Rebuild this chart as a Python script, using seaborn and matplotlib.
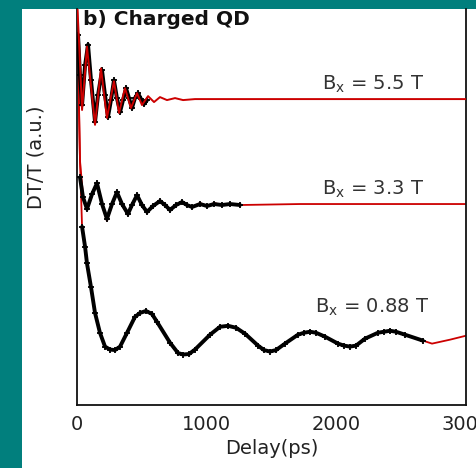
import matplotlib
matplotlib.use('Agg')
import matplotlib.pyplot as plt
from matplotlib.patches import Rectangle
import seaborn as sns

# --- values (delay in ps, DT/T in a.u.) ---
# Bx = 5.5 T
fit55_t = [0, 15, 39, 77, 139, 185, 231, 285, 324, 370, 416, 463, 501, 548, 594,
           640, 694, 756, 818, 910, 1003, 3000]
fit55_y = [4.1, 3.69, 2.98, 3.62, 2.83, 3.40, 2.90, 3.27, 2.95, 3.20, 3.00, 3.15, 3.03,
           3.12, 3.06, 3.11, 3.08, 3.10, 3.08, 3.09, 3.09, 3.09]
data55_t = [8, 23, 39, 62, 85, 108, 139, 162, 193, 216, 239, 262, 285, 308, 332, 355,
            378, 401, 424, 447, 470, 494, 517, 540]
data55_y = [3.74, 3.33, 3.03, 3.43, 3.64, 3.28, 2.86, 3.13, 3.38, 3.13, 2.91, 3.08, 3.28,
            3.10, 2.96, 3.08, 3.20, 3.10, 3.00, 3.10, 3.15, 3.09, 3.04, 3.08]

# Bx = 3.3 T
fit33_t = [0, 23, 46, 77, 116, 154, 193, 231, 270, 308, 347, 393, 424, 463, 501, 540,
           586, 640, 679, 717, 764, 810, 848, 887, 949, 1003, 1057, 1118, 1180, 1257,
           1720, 3000]
fit33_y = [4.1, 2.47, 2.12, 1.97, 2.12, 2.24, 2.02, 1.86, 2.02, 2.15, 2.02, 1.92, 2.02,
           2.12, 2.02, 1.94, 2.01, 2.07, 2.02, 1.97, 2.02, 2.05, 2.02, 2.00, 2.04, 2.01,
           2.04, 2.02, 2.03, 2.02, 2.03, 2.03]
data33_t = [23, 46, 77, 116, 154, 193, 231, 270, 308, 347, 393, 424, 463, 501, 540,
            586, 640, 679, 717, 764, 810, 848, 887, 949, 1003, 1057, 1118, 1180, 1257]
data33_y = [2.30, 2.10, 1.98, 2.13, 2.24, 2.03, 1.88, 2.03, 2.15, 2.03, 1.93, 2.02, 2.12,
            2.02, 1.95, 2.01, 2.06, 2.02, 1.97, 2.02, 2.05, 2.02, 2.00, 2.03, 2.01, 2.03,
            2.02, 2.03, 2.02]

# Bx = 0.88 T
fit088_t = [0, 23, 39, 62, 77, 108, 139, 177, 216, 254, 293, 332, 386, 447, 486, 532,
            578, 617, 717, 779, 818, 864, 910, 1026, 1103, 1165, 1227, 1296, 1396, 1442,
            1488, 1535, 1604, 1704, 1751, 1797, 1843, 1913, 2013, 2059, 2105, 2152, 2221,
            2321, 2368, 2414, 2460, 2530, 2668, 2738, 2877, 3000]
fit088_y = [4.1, 2.47, 1.80, 1.60, 1.43, 1.19, 0.93, 0.73, 0.59, 0.56, 0.555, 0.59, 0.73,
            0.89, 0.93, 0.95, 0.92, 0.84, 0.63, 0.525, 0.51, 0.515, 0.56, 0.71, 0.79, 0.80,
            0.78, 0.72, 0.60, 0.555, 0.54, 0.555, 0.62, 0.71, 0.73, 0.74, 0.73, 0.69, 0.62,
            0.60, 0.59, 0.60, 0.67, 0.73, 0.74, 0.75, 0.74, 0.71, 0.65, 0.62, 0.66, 0.70]
data088_t = [39, 62, 77, 108, 139, 177, 216, 254, 293, 332, 386, 447, 486, 532, 578, 617,
             717, 779, 818, 864, 910, 1026, 1103, 1165, 1227, 1296, 1396, 1442, 1488, 1535,
             1604, 1704, 1751, 1797, 1843, 1913, 2013, 2059, 2105, 2152, 2221, 2321, 2368,
             2414, 2460, 2530, 2668]
data088_y = [1.80, 1.60, 1.43, 1.19, 0.93, 0.73, 0.59, 0.56, 0.555, 0.59, 0.73, 0.89,
             0.93, 0.95, 0.92, 0.84, 0.63, 0.525, 0.51, 0.515, 0.56, 0.71, 0.79, 0.80, 0.78,
             0.72, 0.60, 0.555, 0.54, 0.555, 0.62, 0.71, 0.73, 0.74, 0.73, 0.69, 0.62, 0.60,
             0.59, 0.60, 0.67, 0.73, 0.74, 0.75, 0.74, 0.71, 0.65]

field_labels = ['5.5 T', '3.3 T', '0.88 T']
xticks = [0, 1000, 2000, 3000]

sns.set_style('white')
plt.rcParams['font.family'] = ['DejaVu Sans']

teal = '#017f7d'
fig = plt.figure(figsize=(4.76, 4.68), dpi=100)
fig.patch.set_facecolor(teal)
fig.add_artist(Rectangle((22 / 476, 0), 454 / 476, 459 / 468, transform=fig.transFigure,
                         facecolor='white', edgecolor='none', zorder=0))

ax = fig.add_axes([77 / 476, 63 / 468, 389 / 476, 396 / 468])
ax.set_facecolor('white')

# fit first under the data for the two lower curves
sns.lineplot(x=fit33_t, y=fit33_y, ax=ax, color='#cc0000', lw=1.3, sort=False, estimator=None, zorder=2)
sns.lineplot(x=fit088_t, y=fit088_y, ax=ax, color='#cc0000', lw=1.3, sort=False, estimator=None, zorder=2)

for t, y in [(data55_t, data55_y), (data33_t, data33_y), (data088_t, data088_y)]:
    sns.lineplot(x=t, y=y, ax=ax, color='black', lw=2.8, marker='+', markersize=5,
                 markeredgewidth=1.3, markeredgecolor='black', sort=False,
                 estimator=None, zorder=3)

# fit on top for 5.5 T
sns.lineplot(x=fit55_t, y=fit55_y, ax=ax, color='#cc0000', lw=1.4, sort=False, estimator=None, zorder=4)

ax.set_xlim(0, 3000)
ax.set_ylim(0, 4)
ax.set_xticks(xticks)
ax.set_xticklabels([str(v) for v in xticks], fontsize=14, color='#222222')
ax.set_yticks([])
ax.tick_params(axis='x', direction='inout', length=4, width=1, pad=5)

for side in ['left', 'bottom', 'right']:
    ax.spines[side].set_visible(True)
    ax.spines[side].set_color('#111111')
    ax.spines[side].set_linewidth(1.3)
ax.spines['top'].set_visible(False)

ax.set_xlabel('Delay(ps)', fontsize=14, color='#222222', labelpad=4)
ax.set_ylabel('DT/T (a.u.)', fontsize=14, color='#222222')
ax.yaxis.set_label_coords(-0.082, 0.626)

ax.text(0.015, 0.998, 'b) Charged QD', transform=ax.transAxes, fontsize=14.5,
        fontweight='bold', va='top', ha='left', color='#111111')

label_pos = [(0.63, 0.795), (0.63, 0.53), (0.612, 0.232)]
for lab, (px, py) in zip(field_labels, label_pos):
    ax.text(px, py, r'B$_\mathregular{x}$ = ' + lab, transform=ax.transAxes, fontsize=14,
            va='baseline', ha='left', color='#333333')

plt.savefig('out.png', dpi=100, facecolor=fig.get_facecolor())
